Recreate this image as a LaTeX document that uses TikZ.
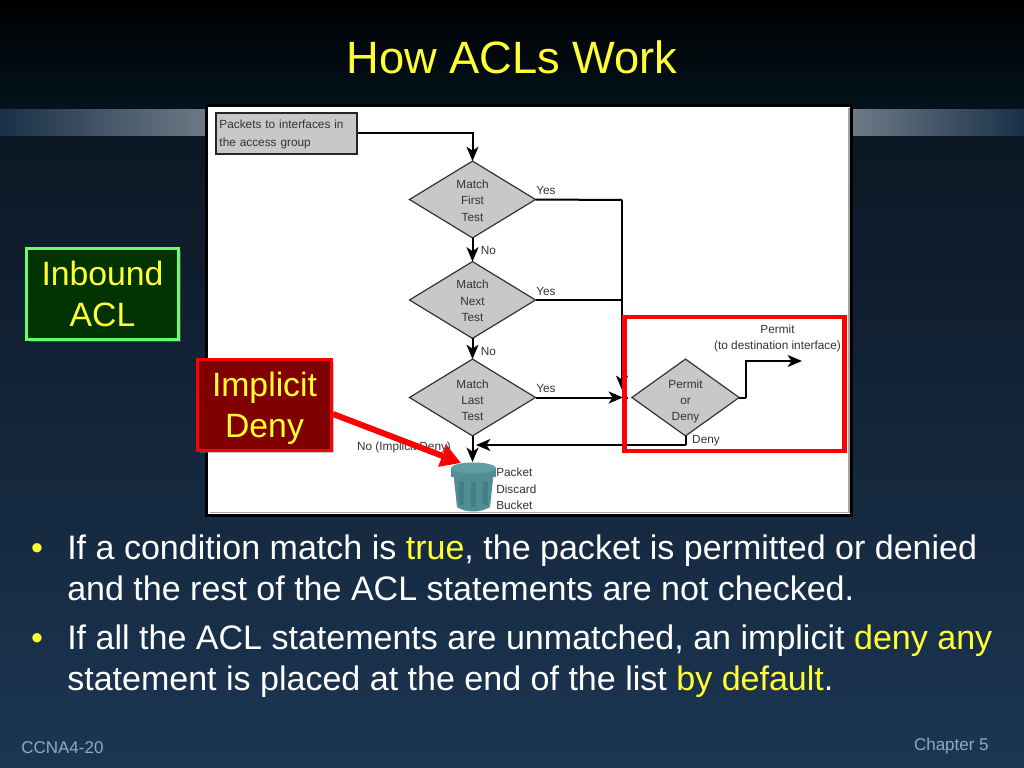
\documentclass[tikz,border=0pt]{standalone}
\usepackage{fontspec}
\setmainfont{Liberation Sans}
\usetikzlibrary{shapes.geometric,shadows,arrows.meta}
\definecolor{slidetop}{HTML}{000000}
\definecolor{slidehigh}{HTML}{03131D}
\definecolor{slidemid}{HTML}{0B1622}
\definecolor{slidelow}{HTML}{1C3653}
\definecolor{bandlight}{HTML}{6C7A86}
\definecolor{bandnavy}{HTML}{1A3048}
\definecolor{flowgrey}{HTML}{C8C8C8}
\definecolor{flowtext}{HTML}{333333}
\definecolor{footblue}{HTML}{8FA9C9}
\definecolor{bulletyellow}{HTML}{FFFF33}
\definecolor{bintone}{HTML}{4F8F93}
\definecolor{bindark}{HTML}{437F83}
\definecolor{binrim}{HTML}{5F9DA1}
\tikzset{
  flowtxt/.style={text=flowtext,font=\fontsize{8.4}{11.6}\selectfont,inner sep=0pt},
  testbox/.style={flowtxt,diamond,draw=black!80,fill=flowgrey,line width=0.03cm,aspect=1.65,
    minimum width=3.15cm,minimum height=1.92cm,align=center,outer sep=0pt},
  flowline/.style={draw=black,line width=0.05cm},
  flowarrow/.style={flowline,-{Stealth[length=0.36cm,width=0.3cm,inset=0.1cm]}},
  notebox/.style={text=bulletyellow,font=\fontsize{24}{29.4}\selectfont,align=center,line width=0.07cm,
    inner sep=0pt,minimum height=2.28cm,drop shadow={opacity=0.45,shadow xshift=0.06cm,shadow yshift=-0.06cm}},
  bodytxt/.style={anchor=base west,text=white,font=\fontsize{24.2}{29}\selectfont,inner sep=0pt},
  bullettxt/.style={anchor=base,text=bulletyellow,font=\fontsize{24.2}{29}\selectfont,inner sep=0pt},
  foottxt/.style={text=footblue,font=\fontsize{12.1}{14}\selectfont,inner sep=0pt},
}
\newcommand{\hot}[1]{\textcolor{bulletyellow}{#1}}
\begin{document}
\begin{tikzpicture}[x=0.025cm,y=-0.025cm]
\useasboundingbox (0,0) rectangle (1024,768);
\shade [top color=slidetop,bottom color=slidehigh] (0,0) rectangle (1024,110);
\shade [top color=slidemid,bottom color=slidelow] (0,110) rectangle (1024,768);
\shade [left color=bandnavy,right color=bandlight] (0,110) rectangle (205,136);
\shade [left color=bandlight,right color=bandnavy] (853,110) rectangle (1024,136);
\node (title) [text=bulletyellow,font=\fontsize{32.2}{38}\selectfont] at (512,57) {How ACLs Work};
\node (panel) [draw=black,fill=white,line width=0.08cm,minimum width=16.13cm,minimum height=10.25cm,
  inner sep=0pt,outer sep=0pt] at (529,310.5) {};
\draw [black!35,line width=0.04cm] (210,512.5) -- (849,512.5) -- (849,108);
\node (packets) [flowtxt,draw=black!85,fill=flowgrey,line width=0.05cm,minimum width=3.5cm,minimum height=1.02cm,
  text width=3.35cm,align=left,font=\fontsize{8.4}{12.3}\selectfont] at (286.5,133.5) {\rule{0pt}{7.5pt}Packets to interfaces in\\the access group};
\node (first) [testbox] at (472.5,199.5) {\rule{0pt}{7.5pt}Match\\First\\Test};
\node (next) [testbox] at (472.5,300) {\rule{0pt}{7.5pt}Match\\Next\\Test};
\node (last) [testbox] at (472.5,397.5) {\rule{0pt}{10pt}Match\\Last\\Test};
\node (perm) [testbox,minimum width=2.68cm,aspect=1.39] at (685.5,397.5) {\rule{0pt}{11.5pt}Permit\\or\\Deny};
\coordinate (yesfirst) at (622,200);
\coordinate (yesnext) at (622,300);
\coordinate (yesend) at (622,390);
\coordinate (yesmerge) at (623,397.5);
\coordinate (yesgap) at (628,397.5);
\coordinate (permout) at (746,397.5);
\coordinate (permend) at (802,361);
\coordinate (denyturn) at (685.5,445);
\coordinate (denyend) at (476,445);
\coordinate (bintop) at (472.5,462);
\draw [flowarrow] (packets.east) -| (first.north);
\draw [flowarrow] (first.south) -- (next.north);
\draw [flowarrow] (next.south) -- (last.north);
\draw [flowarrow] (last.south) -- (bintop);
\draw [flowline] (first.east) -- (yesfirst);
\draw [flowline] (next.east) -- (yesnext);
\draw [flowarrow] (yesfirst) -- (yesend);
\draw [flowarrow] (last.east) -- (yesmerge);
\draw [flowline] (yesmerge) -- (yesgap);
\draw [flowline] (perm.east) -- (permout);
\draw [flowarrow] (permout) |- (permend);
\draw [flowline] (perm.south) -- (denyturn);
\draw [flowarrow] (denyturn) -- (denyend);
\node (yesa) [flowtxt] at (546,190) {Yes};
\node (yesb) [flowtxt] at (546,291) {Yes};
\node (yesc) [flowtxt] at (546,388) {Yes};
\node (noa) [flowtxt] at (488.5,250) {No};
\node (nob) [flowtxt] at (488.5,351) {No};
\node (noc) [flowtxt] at (404,447.5) {No (Implicit Deny)};
\node (denyl) [flowtxt] at (706,441) {Deny};
\node (permitl) [flowtxt,align=center] at (777.5,338.5) {Permit\\(to destination interface)};
\node (bucketl) [flowtxt,anchor=west,align=left] at (496,489) {Packet\\Discard\\Bucket};
\fill [bintone] (453,470) -- (494,470) -- (490,507) .. controls (480,513) and (466,513) .. (457,507) -- cycle;
\fill [bindark] (459,481) rectangle (464,505);
\fill [bindark] (471,481) rectangle (476,507);
\fill [bindark] (483,481) rectangle (488,505);
\fill [bintone] (451,468) rectangle (496,477);
\fill [binrim] (473.5,468) ellipse (22.5 and 5.5);
\node (redbox) [draw=red,line width=0.11cm,minimum width=5.5cm,minimum height=3.35cm,inner sep=0pt,outer sep=0pt] at (734.5,384) {};
\node (inbound) [notebox,draw={rgb,255:red,102;green,255;blue,102},fill={rgb,255:red,0;green,51;blue,0},minimum width=3.8cm] at (102.5,294) {Inbound\\ACL};
\node (implicit) [notebox,draw=red,fill={rgb,255:red,128;green,0;blue,0},minimum width=3.35cm] at (264.5,405) {Implicit\\\raisebox{0pt}[\height][0pt]{Deny}};
\coordinate (redtail) at (333,414);
\coordinate (redtip) at (461,463);
\draw [draw=red,line width=0.15cm,-{Triangle[length=0.5cm,width=0.55cm]}] (redtail) -- (redtip);
\node (bulleta) [bullettxt] at (37,559) {•};
\node (bulletb) [bullettxt] at (37,649) {•};
\node (linea) [bodytxt] at (67,559) {If a condition match is \hot{true}, the packet is permitted or denied};
\node (lineb) [bodytxt] at (67,600) {and the rest of the ACL statements are not checked.};
\node (linec) [bodytxt] at (67,649) {If all the ACL statements are unmatched, an implicit \hot{deny any}};
\node (lined) [bodytxt] at (67,690) {statement is placed at the end of the list \hot{by default}.};
\node (footl) [foottxt,anchor=base west] at (21,753) {CCNA4-20};
\node (footr) [foottxt,anchor=base east] at (989,750) {Chapter 5};
\end{tikzpicture}
\end{document}
